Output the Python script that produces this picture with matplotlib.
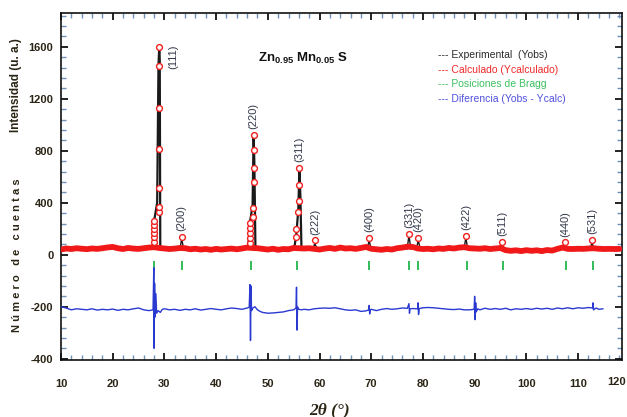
import numpy as np
import matplotlib
matplotlib.use("Agg")
import matplotlib.pyplot as plt

plt.rcParams["font.family"] = ["Liberation Sans", "DejaVu Sans"]
plt.rcParams["mathtext.fontset"] = "custom"
plt.rcParams["mathtext.rm"] = "Liberation Sans:bold"
plt.rcParams["mathtext.it"] = "Liberation Sans:bold"
plt.rcParams["mathtext.bf"] = "Liberation Sans:bold"

# background of the calculated / observed pattern (counts), 1 degree steps
bg_2theta = list(range(10, 119))
bg_counts = [40, 48, 44, 50, 46, 43, 48, 45, 50, 56, 60, 50, 44, 52, 47, 45, 50, 55, 58, 52,
             48, 44, 47, 52, 50, 42, 46, 40, 44, 38, 45, 40, 44, 47, 42, 48, 55, 52, 50, 45,
             40, 46, 38, 44, 42, 52, 50, 48, 50, 45, 40, 47, 52, 45, 55, 48, 50, 45, 52, 60,
             46, 42, 38, 44, 40, 50, 55, 62, 60, 48, 44, 46, 42, 48, 45, 52, 48, 55, 58, 50,
             48, 46, 50, 44, 48, 52, 35, 30, 34, 28, 35, 30, 34, 28, 36, 32, 45, 55, 45, 44,
             46, 45, 48, 50, 46, 44, 45, 44, 45]

# observed profiles of the three strong reflections
obs_111_x = [27.6, 27.9, 28.05, 28.6, 28.85, 29.0, 29.1, 29.2, 29.5]
obs_111_y = [50, 60, 270, 400, 1450, 1600, 1500, 60, 50]
obs_220_x = [46.2, 46.55, 47.05, 47.25, 47.4, 47.6, 47.9]
obs_220_y = [50, 250, 380, 925, 700, 60, 50]
obs_311_x = [55.1, 55.5, 55.9, 56.1, 56.3, 56.5, 56.8]
obs_311_y = [48, 150, 350, 640, 450, 60, 48]

# calculated points drawn as circles on the strong reflections
calc_x = [28.0, 28.0, 28.0, 28.0, 28.0, 28.0, 28.9, 28.95, 29.0, 29.0, 29.0, 29.0, 29.0,
          46.6, 46.6, 46.6, 46.6, 46.6, 47.15, 47.2, 47.3, 47.3, 47.3, 47.3,
          55.5, 55.5, 55.8, 56.0, 56.0, 56.0]
calc_y = [100, 138, 169, 200, 231, 262, 330, 370, 517, 815, 1130, 1450, 1597,
          92, 131, 170, 208, 246, 292, 360, 562, 670, 808, 923,
          140, 200, 330, 410, 540, 670]

# Miller indices, peak positions and heights of the calculated peaks
hkl_labels = ["(111)", "(200)", "(220)", "(311)", "(222)", "(400)", "(331)", "(420)",
              "(422)", "(511)", "(440)", "(531)"]
hkl_2theta = [29.0, 33.35, 47.2, 56.1, 59.1, 69.6, 77.3, 79.1, 88.3, 95.3, 107.5, 112.7]
hkl_top = [1597, 138, 923, 670, 110, 130, 160, 130, 145, 100, 95, 115]

# Bragg positions
bragg_2theta = [28.05, 33.35, 46.75, 55.7, 69.6, 77.4, 79.1, 88.5, 95.4, 107.6, 112.8]

# difference curve (Yobs - Ycalc), offset
diff_2theta = [10, 11, 12, 13, 14, 15, 16, 17, 18, 19, 20, 21, 22, 23, 24, 25, 26, 27,
               27.8, 27.95, 28.0, 28.1, 28.2, 28.35, 28.5, 28.8, 29.2, 29.6,
               30, 31, 32, 33, 34, 35, 36, 37, 38, 39, 40, 41, 42, 43, 44, 45, 46,
               46.4, 46.55, 46.65, 46.75, 46.85, 47.1, 47.5, 48, 48.5,
               49, 50, 51, 52, 53, 54, 55,
               55.45, 55.55, 55.65, 55.75, 56.0, 56.5,
               57, 58, 59, 60, 61, 62, 63, 64, 65, 66, 67, 68, 69,
               69.5, 69.6, 69.7, 69.8, 70, 71, 72, 73, 74, 75, 76, 77,
               77.3, 77.4, 77.5, 78, 79, 79.05, 79.15, 79.3, 80, 81, 82, 83, 84, 85, 86, 87, 88, 89,
               89.9, 90.0, 90.1, 90.2, 90.3, 90.6, 91, 92, 93, 94, 95, 96, 97, 98, 99, 100,
               101, 102, 103, 104, 105, 106, 107, 108, 109, 110, 111, 112,
               112.8, 112.9, 113.0, 113.5, 114, 114.8]
diff_counts = [-200, -205, -212, -208, -210, -212, -208, -213, -210, -212, -209, -214, -210,
               -212, -208, -205, -212, -215,
               -212, -50, -360, -110, -240, -150, -225, -215, -222, -210,
               -208, -212, -210, -214, -210, -212, -208, -213, -210, -207, -210, -212, -208,
               -205, -207, -210, -205,
               -202, -115, -330, -120, -215, -205, -200, -212, -218,
               -222, -225, -224, -222, -220, -215, -212,
               -205, -125, -290, -200, -210, -212,
               -210, -212, -208, -206, -205, -206, -204, -208, -212, -214, -212, -218, -216,
               -212, -195, -228, -212, -210, -215, -210, -207, -210, -208, -205, -206,
               -188, -225, -208, -207, -208, -185, -230, -207, -204, -203, -204, -206, -208,
               -210, -211, -209, -212, -212,
               -210, -160, -250, -185, -220, -208, -212, -206, -210, -207, -210, -206, -212,
               -208, -210, -207,
               -210, -206, -209, -206, -210, -205, -208, -204, -208, -204, -206, -203,
               -205, -185, -212, -205, -210, -208]

legend_lines = ["--- Experimental  (Yobs)", "--- Calculado (Ycalculado)",
                "--- Posiciones de Bragg", "--- Diferencia (Yobs - Ycalc)"]
legend_colors = ["#2a2a2a", "#f02828", "#3cc060", "#5050e0"]

TEXT_COLOR = "#2b2516"
MINOR_COLOR = "#6f93b8"


def _forward(y):
    y = np.asarray(y, dtype=float)
    return np.where(y < 0, 2.0 * y, y)


def _inverse(y):
    y = np.asarray(y, dtype=float)
    return np.where(y < 0, y / 2.0, y)


def main() -> None:
    fig = plt.figure(figsize=(6.27, 4.17), dpi=100)
    ax = fig.add_axes([61 / 627, 1 - 360 / 417, 561 / 627, 347 / 417])
    ax.set_yscale("function", functions=(_forward, _inverse))

    # observed peaks (black), calculated background band (red), circles
    for xs, ys in ((obs_111_x, obs_111_y), (obs_220_x, obs_220_y), (obs_311_x, obs_311_y)):
        ax.plot(xs, ys, color="#1a1a1a", lw=1.6, zorder=2)
    for pos, top, lab in zip(hkl_2theta, hkl_top, hkl_labels):
        if lab in ("(111)", "(220)", "(311)"):
            continue
        ax.plot([pos - 0.35, pos - 0.06, pos + 0.06, pos + 0.35],
                [45, top - 28, top - 28, 45], color="#1a1a1a", lw=1.0, zorder=2)
    ax.plot(bg_2theta, bg_counts, color="#f01818", lw=4.2, zorder=3,
            solid_joinstyle="round", solid_capstyle="round")
    small_x = [p for p, lab in zip(hkl_2theta, hkl_labels) if lab not in ("(111)", "(220)", "(311)")]
    small_y = [t for t, lab in zip(hkl_top, hkl_labels) if lab not in ("(111)", "(220)", "(311)")]
    ax.plot(calc_x + small_x, calc_y + small_y, ls="none", marker="o", ms=4.2, mfc="white",
            mec="#f02020", mew=1.0, zorder=4)

    # Bragg positions
    ax.vlines(bragg_2theta, -58, -26, color="#22b84a", lw=1.3, zorder=3)

    # difference
    ax.plot(diff_2theta, diff_counts, color="#2a3ad0", lw=1.0, zorder=3)

    # hkl labels
    for pos, top, lab in zip(hkl_2theta, hkl_top, hkl_labels):
        if lab == "(111)":
            ax.text(31.7, 1615, lab, rotation=90, ha="center", va="top", fontsize=8,
                    color="#33384a")
        else:
            ax.annotate(lab, (pos, top), xytext=(0, 4), textcoords="offset points",
                        rotation=90, ha="center", va="bottom", fontsize=8, color="#33384a")

    ax.set_xlim(10, 118.5)
    ax.set_ylim(-405, 1860)

    ax.set_xticks(list(range(10, 120, 10)), labels=[str(v) for v in range(10, 120, 10)],
                  fontweight="bold", fontsize=8, color=TEXT_COLOR)
    ax.set_xticks([v for v in range(12, 119, 2) if v % 10], minor=True)
    # the 120 label sits just past the right spine in the original
    fig.text(626 / 627, 1 - 382 / 417, "120", ha="right", va="center",
             fontweight="bold", fontsize=8, color=TEXT_COLOR)
    y_major = [-400, -200, 0, 400, 800, 1200, 1600]
    ax.set_yticks(y_major, labels=[str(v) for v in y_major], fontweight="bold", fontsize=8,
                  color=TEXT_COLOR)
    y_minor = [v for v in range(80, 1860, 80) if v % 400] + [v for v in range(-360, 0, 40) if v != -200]
    ax.set_yticks(y_minor, minor=True)

    ax.tick_params(which="both", direction="in", top=True, right=True)
    ax.tick_params(which="major", length=5, width=1.3, color="#111111")
    ax.tick_params(which="minor", length=3.5, width=1.0, color=MINOR_COLOR)
    ax.tick_params(axis="x", which="both", pad=13.5)
    ax.tick_params(axis="y", which="both", pad=5.5)
    for spine in ax.spines.values():
        spine.set_linewidth(1.2)
        spine.set_color("#111111")

    ax.set_xlabel("2θ (°)", fontsize=12.5, fontweight="bold", fontstyle="italic",
                  family=["Liberation Serif", "DejaVu Serif"], color=TEXT_COLOR, va="center")
    ax.xaxis.set_label_coords((330 - 61) / 561, -(410 - 360) / 347)

    fig.text(16 / 627, 1 - 85 / 417, "Intensidad (u. a.)", rotation=90, ha="center", va="center",
             fontsize=8.5, fontweight="bold", color=TEXT_COLOR,
             family=["Liberation Sans Narrow", "Liberation Sans"])
    fig.text(17 / 627, 1 - 255 / 417, "N ú m e r o   d e   c u e n t a s", rotation=90,
             ha="center", va="center", fontsize=8, fontweight="bold", color=TEXT_COLOR)

    fig.text(258 / 627, 1 - 58 / 417, "Zn$_{0.95}$ Mn$_{0.05}$ S", ha="left", va="center",
             fontsize=9.5, fontweight="bold", color="#111111")

    for i, (line, col) in enumerate(zip(legend_lines, legend_colors)):
        fig.text(438 / 627, 1 - (55 + 14.6 * i) / 417, line, ha="left", va="center",
                 fontsize=7.5, color=col)

    fig.savefig("out.png", dpi=100)
    plt.close(fig)


if __name__ == "__main__":
    main()
